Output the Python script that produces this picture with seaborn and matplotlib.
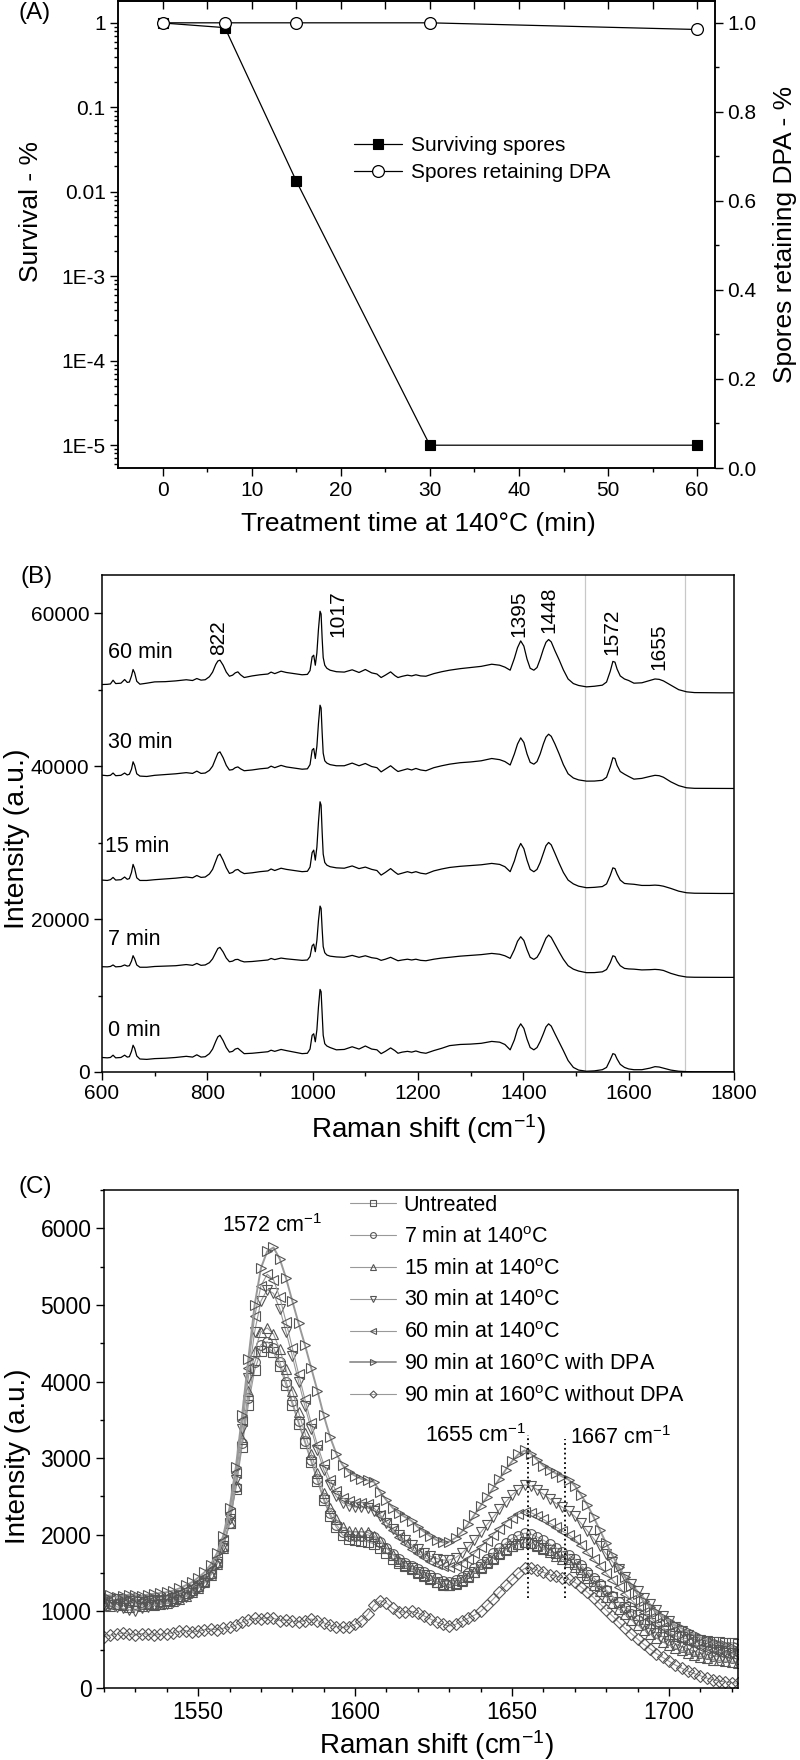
import numpy as np
import pandas as pd
import matplotlib
matplotlib.use("Agg")
import matplotlib.pyplot as plt
from matplotlib.ticker import (MultipleLocator, FixedLocator, FixedFormatter,
                               LogLocator, NullFormatter, NullLocator)
import seaborn as sns

# ---------------------------------------------------------------------
# style
# ---------------------------------------------------------------------
sns.set_theme(style="ticks")
plt.rcParams['font.family'] = ['Liberation Sans', 'DejaVu Sans']
plt.rcParams['mathtext.default'] = 'regular'
plt.rcParams['text.color'] = 'black'
plt.rcParams['axes.labelcolor'] = 'black'

# ---------------------------------------------------------------------
# data - panel A (survival / DPA retention)
# ---------------------------------------------------------------------
time_min = [0, 7, 15, 30, 60]
survival = [1.0, 0.88, 0.0135, 1e-5, 1e-5]
dpa_retained = [1.0, 1.0, 1.0, 1.0, 0.985]

# ---------------------------------------------------------------------
# data - panel B (stacked Raman spectra)
# ---------------------------------------------------------------------
raman_b = [600, 610, 616, 621, 626, 636, 643, 648, 652, 656,
           659, 662, 666, 672, 685, 700, 720, 740, 760, 772,
           780, 788, 796, 804, 810, 816, 820, 824, 830, 836,
           842, 848, 853, 858, 863, 870, 885, 900, 915, 921,
           928, 940, 950, 965, 980, 990, 995, 999, 1002, 1005,
           1008, 1011, 1014, 1016, 1018, 1020, 1023, 1027, 1033, 1045,
           1060, 1075, 1088, 1100, 1112, 1122, 1130, 1138, 1148, 1156,
           1162, 1170, 1180, 1188, 1196, 1205, 1215, 1230, 1245, 1260,
           1280, 1300, 1320, 1340, 1355, 1365, 1375, 1383, 1389, 1395,
           1401, 1407, 1413, 1420, 1426, 1432, 1438, 1443, 1448, 1453,
           1460, 1468, 1476, 1485, 1495, 1505, 1520, 1535, 1550, 1558,
           1565, 1570, 1574, 1578, 1584, 1592, 1600, 1610, 1625, 1640,
           1650, 1658, 1666, 1680, 1695, 1710, 1725, 1750, 1775, 1800]

spec_0 = [1900, 1850, 1900, 2200, 1850, 1900, 2200, 1950, 2000, 2700,
          3500, 3100, 2100, 1700, 1650, 1750, 1800, 1900, 2050, 1950,
          2250, 1950, 2000, 2400, 3000, 4000, 4600, 4800, 4100, 3200,
          2600, 2700, 3000, 3100, 2800, 2400, 2450, 2550, 2650, 2850,
          2700, 2950, 2800, 2600, 2400, 2450, 3000, 4800, 5000, 3950,
          5500, 8500, 10800, 10500, 7500, 4800, 3700, 3400, 3200, 2900,
          2950, 3300, 3000, 3400, 3000, 2900, 2400, 2700, 3150, 2800,
          2450, 2600, 2700, 2600, 2750, 2550, 2450, 2800, 3100, 3450,
          3600, 3650, 3750, 4000, 3900, 3600, 2900, 4200, 5600, 6300,
          5700, 4300, 3200, 2900, 3200, 4000, 5000, 5900, 6300, 6000,
          5000, 3900, 2800, 1500, 600, 250, 100, 150, 300, 600,
          1600, 2400, 2300, 1700, 1000, 600, 400, 300, 300, 500,
          700, 650, 500, 250, 100, 50, 30, 20, 20, 20]

spec_7 = [1870, 1850, 1900, 2100, 1850, 1900, 2100, 1950, 2000, 2600,
          3310, 2900, 2100, 1800, 1800, 1900, 1950, 2000, 2150, 2050,
          2300, 2050, 2100, 2400, 2900, 3700, 4250, 4400, 3800, 3000,
          2520, 2600, 2800, 2830, 2650, 2500, 2550, 2650, 2750, 2950,
          2800, 3000, 2900, 2800, 2700, 2750, 3200, 4600, 4830, 3830,
          5300, 7900, 9800, 9500, 6800, 4500, 3700, 3400, 3250, 3150,
          3100, 3350, 3100, 3300, 3050, 2950, 2700, 2850, 3100, 2850,
          2650, 2750, 2850, 2750, 2850, 2700, 2650, 2850, 3000, 3100,
          3250, 3350, 3450, 3610, 3500, 3300, 2960, 4100, 5200, 5790,
          5300, 4100, 3100, 2830, 3100, 3800, 4800, 5600, 6010, 5700,
          4800, 3800, 2850, 2000, 1550, 1300, 1090, 1100, 1200, 1500,
          2400, 3300, 3200, 2600, 2000, 1650, 1580, 1550, 1450, 1480,
          1520, 1480, 1380, 1000, 700, 520, 490, 480, 475, 475]

spec_15 = [2200, 2150, 2250, 2550, 2200, 2250, 2600, 2300, 2400, 3200,
           4250, 3700, 2500, 2150, 2150, 2250, 2350, 2450, 2600, 2500,
           2800, 2550, 2600, 3000, 3600, 4700, 5400, 5600, 4800, 3800,
           3070, 3200, 3500, 3590, 3300, 3050, 3150, 3300, 3400, 3650,
           3450, 3750, 3600, 3450, 3300, 3350, 3900, 5800, 6120, 4810,
           6500, 9800, 12440, 12000, 8500, 5600, 4500, 4150, 3950, 3800,
           3750, 4050, 3700, 3900, 3600, 3450, 2850, 3200, 3700, 3250,
           2950, 3100, 3300, 3150, 3300, 3100, 3000, 3400, 3650, 3850,
           4000, 4100, 4200, 4380, 4250, 3950, 3300, 4700, 6100, 6990,
           6300, 4800, 3600, 3290, 3600, 4500, 5700, 6700, 7120, 6800,
           5700, 4400, 3200, 2200, 1700, 1400, 1200, 1250, 1350, 1700,
           2800, 3800, 3700, 3000, 2200, 1760, 1700, 1650, 1500, 1500,
           1540, 1500, 1400, 1110, 750, 540, 480, 460, 450, 450]

spec_30 = [2220, 2150, 2200, 2500, 2150, 2200, 2500, 2250, 2350, 3000,
           3970, 3500, 2400, 2100, 2050, 2200, 2300, 2400, 2550, 2450,
           2750, 2450, 2500, 2850, 3400, 4400, 5100, 5270, 4500, 3500,
           2880, 2950, 3200, 3300, 3050, 2800, 2900, 3050, 3150, 3400,
           3200, 3500, 3300, 3150, 3000, 3050, 3600, 5500, 5710, 4400,
           6000, 9000, 11370, 11000, 7800, 5100, 4100, 3800, 3600, 3450,
           3450, 3800, 3450, 3750, 3350, 3200, 2650, 3000, 3450, 3000,
           2700, 2850, 3050, 2900, 3100, 2900, 2800, 3200, 3450, 3660,
           3850, 3950, 4100, 4400, 4250, 4000, 3550, 5000, 6300, 7100,
           6500, 5000, 3900, 3660, 4000, 5000, 6300, 7200, 7580, 7300,
           6300, 5000, 3600, 2400, 1850, 1600, 1440, 1450, 1550, 1950,
           3300, 4500, 4400, 3500, 2700, 2350, 2050, 1700, 1800, 2050,
           2200, 2150, 1950, 1350, 850, 570, 500, 490, 480, 480]

spec_60 = [1675, 1700, 1750, 2240, 1800, 1850, 2330, 1950, 2000, 2800,
           3640, 3200, 2100, 1720, 1850, 2020, 2050, 2150, 2300, 2200,
           2460, 2250, 2300, 2700, 3300, 4300, 4750, 4860, 4200, 3300,
           2760, 2900, 3200, 3330, 2950, 2590, 2800, 2950, 3050, 3300,
           3100, 3420, 3250, 3100, 2950, 3000, 3500, 5300, 5510, 4200,
           5800, 8900, 11260, 10900, 7700, 5200, 4200, 3800, 3550, 3350,
           3300, 3600, 3250, 3640, 3200, 3050, 2590, 2900, 3330, 2850,
           2590, 2750, 2900, 2800, 2950, 2800, 2760, 3100, 3350, 3550,
           3750, 3900, 4050, 4330, 4200, 3950, 3550, 5100, 6500, 7380,
           6700, 5000, 3800, 3550, 3900, 5000, 6300, 7200, 7560, 7250,
           6100, 4900, 3600, 2400, 1800, 1550, 1370, 1450, 1590, 2000,
           3400, 4700, 4600, 3700, 2800, 2400, 2200, 1850, 1900, 2200,
           2400, 2350, 2150, 1590, 1000, 720, 620, 600, 590, 590]

trace_names = ['0 min', '7 min', '15 min', '30 min', '60 min']
trace_offsets = [0, 11900, 22900, 36600, 49000]
peak_marks = [822, 1017, 1395, 1448, 1572, 1655]
window_lines = [1517, 1707]

# ---------------------------------------------------------------------
# data - panel C (1520-1722 cm-1 region)
# ---------------------------------------------------------------------
raman_c = np.arange(1520, 1723, 2)

c_untreated = [1150, 1140, 1160, 1150, 1130, 1140, 1120, 1130, 1150, 1140,
               1150, 1170, 1200, 1240, 1280, 1330, 1400, 1500, 1640, 1850,
               2150, 2600, 3150, 3700, 4150, 4400, 4450, 4380, 4200, 3950,
               3700, 3450, 3200, 2950, 2700, 2450, 2250, 2100, 2000, 1950,
               1930, 1920, 1910, 1880, 1830, 1760, 1690, 1630, 1590, 1560,
               1520, 1480, 1430, 1390, 1360, 1350, 1370, 1410, 1460, 1520,
               1580, 1640, 1700, 1760, 1810, 1850, 1880, 1900, 1890, 1860,
               1830, 1800, 1760, 1720, 1680, 1620, 1550, 1480, 1400, 1330,
               1260, 1190, 1120, 1060, 1000, 950, 900, 850, 800, 750,
               710, 680, 660, 640, 630, 620, 610, 600, 600, 590,
               590, 580]

c_7min = [1100, 1110, 1090, 1100, 1120, 1100, 1090, 1110, 1100, 1120,
          1130, 1150, 1180, 1220, 1260, 1320, 1390, 1490, 1630, 1840,
          2150, 2620, 3200, 3780, 4250, 4480, 4520, 4440, 4250, 4000,
          3740, 3480, 3230, 2980, 2730, 2480, 2280, 2130, 2040, 1990,
          1980, 1990, 2000, 1970, 1910, 1830, 1750, 1680, 1630, 1590,
          1550, 1510, 1470, 1430, 1400, 1390, 1410, 1450, 1500, 1560,
          1620, 1690, 1760, 1830, 1890, 1950, 1990, 2020, 2010, 1970,
          1930, 1880, 1830, 1780, 1740, 1680, 1600, 1520, 1440, 1360,
          1280, 1200, 1120, 1040, 960, 890, 830, 770, 720, 670,
          620, 580, 540, 510, 480, 460, 440, 420, 410, 400,
          390, 380]

c_15min = [1080, 1070, 1090, 1080, 1060, 1080, 1070, 1090, 1080, 1100,
           1110, 1130, 1160, 1200, 1250, 1310, 1380, 1480, 1620, 1830,
           2150, 2640, 3250, 3880, 4400, 4650, 4700, 4620, 4420, 4160,
           3880, 3600, 3330, 3060, 2800, 2550, 2350, 2200, 2100, 2050,
           2040, 2040, 2030, 1990, 1920, 1830, 1740, 1660, 1600, 1550,
           1500, 1460, 1420, 1380, 1350, 1340, 1360, 1400, 1450, 1510,
           1570, 1630, 1690, 1750, 1800, 1850, 1880, 1900, 1890, 1850,
           1810, 1770, 1720, 1680, 1640, 1580, 1510, 1430, 1350, 1270,
           1190, 1110, 1030, 960, 890, 820, 760, 700, 650, 600,
           560, 520, 490, 460, 430, 410, 390, 370, 360, 350,
           340, 330]

c_30min = [1100, 1080, 1060, 1040, 1020, 1010, 1040, 1060, 1080, 1090,
           1100, 1120, 1150, 1190, 1240, 1300, 1370, 1470, 1620, 1850,
           2200, 2720, 3380, 4050, 4650, 5050, 5200, 5150, 4950, 4650,
           4330, 4000, 3680, 3380, 3100, 2850, 2650, 2500, 2420, 2380,
           2360, 2360, 2350, 2310, 2240, 2160, 2080, 2000, 1930, 1870,
           1810, 1760, 1720, 1690, 1670, 1670, 1700, 1760, 1840, 1930,
           2030, 2130, 2230, 2330, 2430, 2520, 2590, 2650, 2640, 2590,
           2530, 2470, 2410, 2360, 2310, 2240, 2150, 2050, 1950, 1850,
           1750, 1650, 1550, 1450, 1360, 1270, 1180, 1100, 1020, 940,
           870, 800, 740, 690, 640, 600, 560, 530, 500, 480,
           460, 440]

c_60min = [1150, 1160, 1140, 1150, 1170, 1160, 1150, 1170, 1160, 1180,
           1190, 1210, 1240, 1280, 1320, 1380, 1450, 1550, 1700, 1930,
           2280, 2800, 3480, 4180, 4850, 5250, 5400, 5330, 5100, 4780,
           4440, 4100, 3770, 3460, 3170, 2920, 2720, 2570, 2480, 2440,
           2420, 2420, 2400, 2350, 2260, 2160, 2060, 1970, 1890, 1820,
           1760, 1710, 1660, 1620, 1590, 1580, 1590, 1630, 1690, 1760,
           1840, 1920, 2000, 2080, 2160, 2220, 2270, 2300, 2290, 2250,
           2200, 2150, 2100, 2050, 2000, 1940, 1860, 1770, 1680, 1590,
           1500, 1410, 1320, 1230, 1150, 1070, 990, 920, 850, 790,
           730, 680, 640, 600, 570, 540, 510, 490, 470, 460,
           450, 440]

c_90min_dpa = [1200, 1210, 1190, 1200, 1220, 1210, 1200, 1220, 1230, 1240,
               1250, 1270, 1300, 1340, 1380, 1440, 1510, 1610, 1760, 1990,
               2350, 2880, 3560, 4300, 5000, 5480, 5700, 5750, 5600, 5350,
               5050, 4760, 4480, 4180, 3880, 3560, 3280, 3060, 2910, 2820,
               2770, 2730, 2710, 2690, 2560, 2450, 2350, 2280, 2230, 2180,
               2100, 2040, 1980, 1930, 1900, 1910, 1960, 2040, 2140, 2260,
               2380, 2490, 2610, 2730, 2850, 2960, 3050, 3100, 3060, 2980,
               2900, 2850, 2800, 2760, 2720, 2640, 2520, 2390, 2230, 2060,
               1890, 1730, 1580, 1450, 1330, 1230, 1130, 1060, 990, 930,
               880, 820, 780, 740, 700, 660, 630, 600, 580, 560,
               540, 530]

c_90min_nodpa = [670, 690, 700, 720, 700, 690, 710, 700, 690, 700,
                 710, 720, 740, 750, 730, 740, 760, 770, 760, 780,
                 790, 820, 860, 890, 910, 900, 920, 910, 880, 890,
                 870, 860, 880, 900, 880, 850, 820, 800, 790, 800,
                 830, 880, 960, 1080, 1140, 1110, 1040, 990, 990, 1000,
                 980, 940, 900, 860, 830, 810, 830, 870, 910, 950,
                 1000, 1080, 1160, 1250, 1340, 1420, 1500, 1560, 1570, 1540,
                 1510, 1480, 1460, 1440, 1420, 1380, 1320, 1250, 1180, 1100,
                 1020, 940, 860, 780, 710, 640, 570, 510, 450, 400,
                 350, 300, 260, 220, 190, 160, 130, 110, 90, 80,
                 70, 60]

labels_c = ['Untreated',
            '7 min at 140$^{o}$C',
            '15 min at 140$^{o}$C',
            '30 min at 140$^{o}$C',
            '60 min at 140$^{o}$C',
            '90 min at 160$^{o}$C with DPA',
            '90 min at 160$^{o}$C without DPA']
series_c = [c_untreated, c_7min, c_15min, c_30min, c_60min,
            c_90min_dpa, c_90min_nodpa]
markers_c = ['s', 'o', '^', 'v', '<', '>', 'D']


def frame(ax, size):
    for s in ax.spines.values():
        s.set_linewidth(1.1)
        s.set_color('black')
    ax.tick_params(which='both', direction='out', color='black', width=1.0,
                   labelsize=size, labelcolor='black')
    ax.tick_params(which='major', length=5.5)
    ax.tick_params(which='minor', length=3)


fig = plt.figure(figsize=(8, 17.6), dpi=100)

# =====================================================================
# (A)
# =====================================================================
axa = fig.add_axes([0.1475, 0.73409, 0.74625, 0.26534])
sns.lineplot(x=time_min, y=survival, ax=axa, color='black', lw=0.9,
             marker='s', markersize=7.5, markerfacecolor='black',
             markeredgecolor='black', markeredgewidth=0.8,
             label='Surviving spores', errorbar=None)
axa.set_yscale('log')
axa.set_ylim(10 ** -5.27, 10 ** 0.26)
axa.set_xlim(-5, 62)
axa.yaxis.set_major_locator(FixedLocator([1e-5, 1e-4, 1e-3, 1e-2, 1e-1, 1]))
axa.yaxis.set_major_formatter(FixedFormatter(['1E-5', '1E-4', '1E-3', '0.01', '0.1', '1']))
axa.yaxis.set_minor_locator(LogLocator(base=10, subs=np.arange(2, 10), numticks=50))
axa.yaxis.set_minor_formatter(NullFormatter())
axa.xaxis.set_major_locator(FixedLocator(range(0, 61, 10)))
axa.xaxis.set_minor_locator(FixedLocator(range(5, 60, 10)))
frame(axa, 15)

top = axa.secondary_xaxis('top')
top.xaxis.set_major_locator(FixedLocator(range(0, 61, 5)))
top.xaxis.set_minor_locator(NullLocator())
top.tick_params(direction='in', length=6, width=1.0, labeltop=False, color='black')
top.spines['top'].set_linewidth(1.1)

axa2 = axa.twinx()
sns.lineplot(x=time_min, y=dpa_retained, ax=axa2, color='black', lw=0.9,
             marker='o', markersize=8.5, markerfacecolor='white',
             markeredgecolor='black', markeredgewidth=0.9,
             label='Spores retaining DPA', errorbar=None)
axa2.set_ylim(0, 1.049)
axa2.yaxis.set_major_locator(MultipleLocator(0.2))
axa2.yaxis.set_minor_locator(MultipleLocator(0.1))
axa2.yaxis.set_major_formatter(plt.FuncFormatter(lambda v, p: f"{v:.1f}"))
frame(axa2, 15)

if axa.get_legend() is not None:
    axa.get_legend().remove()
h1, l1 = axa.get_legend_handles_labels()
h2, l2 = axa2.get_legend_handles_labels()
axa2.legend(h1 + h2, l1 + l2, loc='upper left', bbox_to_anchor=(0.395, 0.71),
            frameon=False, fontsize=15, handlelength=2.3, handletextpad=0.45,
            borderpad=0, borderaxespad=0, labelspacing=0.38)

axa.set_xlabel('Treatment time at 140°C (min)', fontsize=19)
axa.set_ylabel('Survival - %', fontsize=19)
axa2.set_ylabel('Spores retaining DPA - %', fontsize=19)
axa.xaxis.set_label_coords(0.503, -0.094)
axa.yaxis.set_label_coords(-0.126, 0.55)
axa2.yaxis.set_label_coords(1.097, 0.5)

# =====================================================================
# (B)
# =====================================================================
axb = fig.add_axes([0.1275, 0.39091, 0.79, 0.28239])
spectra_b = [spec_0, spec_7, spec_15, spec_30, spec_60]
rows = []
for name, spec, off in zip(trace_names, spectra_b, trace_offsets):
    for x, y in zip(raman_b, spec):
        rows.append({'shift': x, 'intensity': y + off, 'trace': name})
df_b = pd.DataFrame(rows)

for xv in window_lines:
    axb.axvline(xv, color='#c8c8c8', lw=0.9, zorder=0)
sns.lineplot(data=df_b, x='shift', y='intensity', units='trace',
             estimator=None, color='black', lw=0.9, ax=axb, sort=True)
axb.set_xlim(600, 1800)
axb.set_ylim(0, 65000)
axb.xaxis.set_major_locator(MultipleLocator(200))
axb.xaxis.set_minor_locator(MultipleLocator(100))
axb.yaxis.set_major_locator(MultipleLocator(20000))
axb.yaxis.set_minor_locator(MultipleLocator(10000))
frame(axb, 15)

label_y_b = [5400, 17350, 29540, 43050, 54900]
label_x_b = [612, 612, 606, 612, 612]
for name, lx, ly in zip(trace_names, label_x_b, label_y_b):
    axb.text(lx, ly, name, fontsize=15.5, ha='left', va='center')

peak_x_b = [821.5, 1048, 1391, 1448, 1568.5, 1658]
peak_y_b = [54500, 56900, 56900, 57370, 54500, 52550]
for pk, px, py in zip(peak_marks, peak_x_b, peak_y_b):
    axb.text(px, py, str(pk), rotation=90, fontsize=15, ha='center', va='bottom')

axb.set_xlabel('Raman shift (cm$^{-1}$)', fontsize=20)
axb.set_ylabel('Intensity (a.u.)', fontsize=20.5)
axb.xaxis.set_label_coords(0.517, -0.08)
axb.yaxis.set_label_coords(-0.114, 0.469)

# =====================================================================
# (C)
# =====================================================================
axc = fig.add_axes([0.13, 0.040909, 0.7925, 0.28295])
for lab, vals, mk in zip(labels_c, series_c, markers_c):
    lw = 1.4 if 'with DPA' in lab else 0.8
    sns.lineplot(x=raman_c, y=vals, ax=axc, color='#999999', lw=lw,
                 marker=mk, markersize=7 if mk != 'D' else 6,
                 markerfacecolor='none', markeredgecolor='#555555',
                 markeredgewidth=0.8, label=lab, errorbar=None)
axc.set_xlim(1520, 1722)
axc.set_ylim(0, 6500)
axc.xaxis.set_major_locator(MultipleLocator(50))
axc.xaxis.set_minor_locator(MultipleLocator(10))
axc.yaxis.set_major_locator(MultipleLocator(1000))
axc.yaxis.set_minor_locator(MultipleLocator(500))
frame(axc, 16.5)

axc.vlines(1655, 1170, 3300, colors='black', linestyles=':', lw=1.3)
axc.vlines(1667, 1170, 3250, colors='black', linestyles=':', lw=1.3)
axc.text(1573.5, 6040, '1572 cm$^{-1}$', fontsize=15.5, ha='center', va='center')
axc.text(1654.5, 3290, '1655 cm$^{-1}$', fontsize=15.5, ha='right', va='center')
axc.text(1668.5, 3270, '1667 cm$^{-1}$', fontsize=15.5, ha='left', va='center')

hc, lc = axc.get_legend_handles_labels()
axc.legend(hc, lc, loc='upper left', bbox_to_anchor=(0.388, 0.99),
           frameon=False, fontsize=15.5, handlelength=2.15, handletextpad=0.35,
           borderpad=0, borderaxespad=0, labelspacing=0.5, markerscale=0.6)

axc.set_xlabel('Raman shift (cm$^{-1}$)', fontsize=20)
axc.set_ylabel('Intensity (a.u.)', fontsize=20)
axc.xaxis.set_label_coords(0.525, -0.08)
axc.yaxis.set_label_coords(-0.115, 0.466)

# panel letters
fig.text(18 / 800, 1 - 2 / 1760, '(A)', fontsize=17.5, ha='left', va='top')
fig.text(20 / 800, 1 - 566 / 1760, '(B)', fontsize=17.5, ha='left', va='top')
fig.text(18 / 800, 1 - 1176 / 1760, '(C)', fontsize=17.5, ha='left', va='top')

fig.savefig('out.png', dpi=100)
plt.close(fig)
